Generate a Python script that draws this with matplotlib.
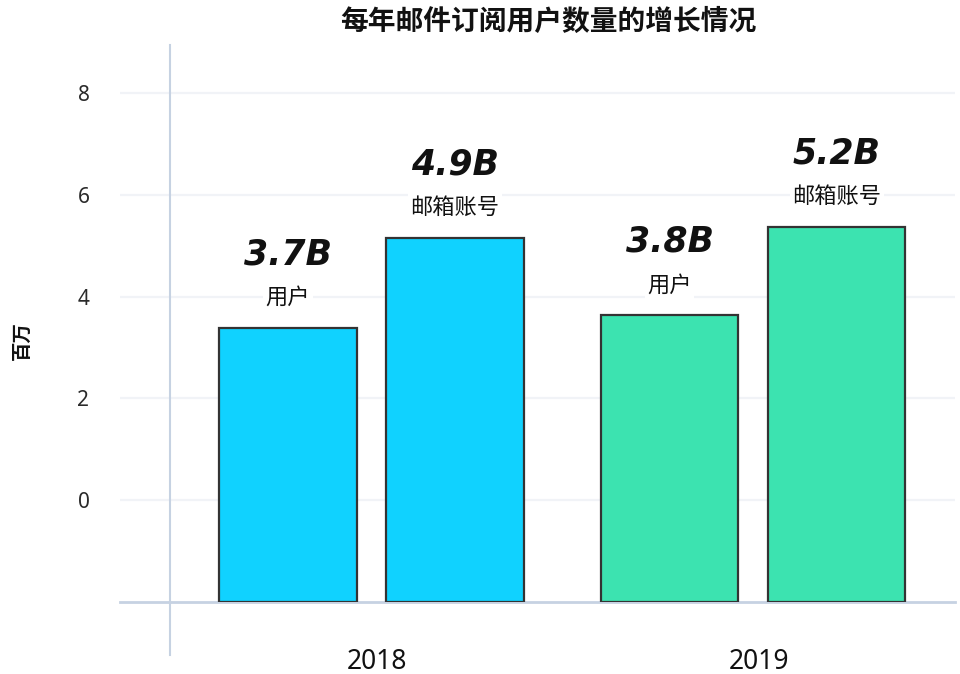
import numpy as np
import matplotlib
matplotlib.use("Agg")
import matplotlib.pyplot as plt

plt.rcParams['font.family'] = ['Noto Sans CJK SC', 'DejaVu Sans']

# 数据
years = ['2018', '2019']
users = [3.38, 3.63]          # bar heights
mail = [5.15, 5.36]
user_labels = ['3.7B', '3.8B']
mail_labels = ['4.9B', '5.2B']
colors = ['#10d2ff', '#3ce3b0']
yticks = [0, 2, 4, 6, 8]

base = -2.0
w = 0.36
off = 0.219

fig = plt.figure(figsize=(9.6, 6.74), dpi=100)
ax = fig.add_axes([120 / 960, 1 - 602 / 674, (955 - 120) / 960, (602 - 42) / 674])
ax.set_xlim(-0.659, 1.529)
ax.set_ylim(base, 9.0)

x = np.arange(len(years))
for i in range(len(years)):
    for xx, v, lab, name in [(x[i] - off, users[i], user_labels[i], '用户'),
                             (x[i] + off, mail[i], mail_labels[i], '邮箱账号')]:
        ax.bar(xx, v - base, bottom=base, width=w, color=colors[i],
               edgecolor='#333333', linewidth=1.6, zorder=3)
        ax.annotate(name, (xx, v), xytext=(0, 22), textcoords='offset points',
                    ha='center', va='center', fontsize=16, color='#111111',
                    bbox=dict(facecolor='white', edgecolor='none', pad=2), zorder=4)
        ax.annotate(lab, (xx, v), xytext=(0, 53), textcoords='offset points',
                    ha='center', va='center', fontsize=25, fontweight='bold',
                    fontstyle='italic', color='#111111',
                    family=['DejaVu Sans'], zorder=4)

# 网格线
for t in yticks:
    ax.axhline(t, color='#f1f3f7', linewidth=1.6, zorder=1)

# 坐标轴
ax.axhline(base, color='#c6d2e2', linewidth=2, zorder=2, clip_on=False)
ax.axvline(-0.528, ymin=-0.095, ymax=0.995, color='#c6d2e2', linewidth=1.5,
           zorder=2, clip_on=False)

for s in ax.spines.values():
    s.set_visible(False)
ax.set_yticks(yticks)
ax.set_yticklabels([str(t) for t in yticks], fontsize=15, color='#2a2a2a',
                   family=['Noto Sans'])
ax.tick_params(axis='y', length=0, pad=22)
ax.set_xticks(x + 0.015)
ax.set_xticklabels(years, fontsize=19, color='#111111', family=['Noto Sans'])
ax.tick_params(axis='x', length=0, pad=33)

fig.text(22 / 960, 1 - 340 / 674, '百万', rotation=90, ha='center', va='center',
         fontsize=14, fontweight='bold', color='#111111')
fig.text(548 / 960, 1 - 22 / 674, '每年邮件订阅用户数量的增长情况', ha='center',
         va='center', fontsize=20, fontweight='semibold', color='#111111')

fig.savefig('out.png', dpi=100, facecolor='white')
